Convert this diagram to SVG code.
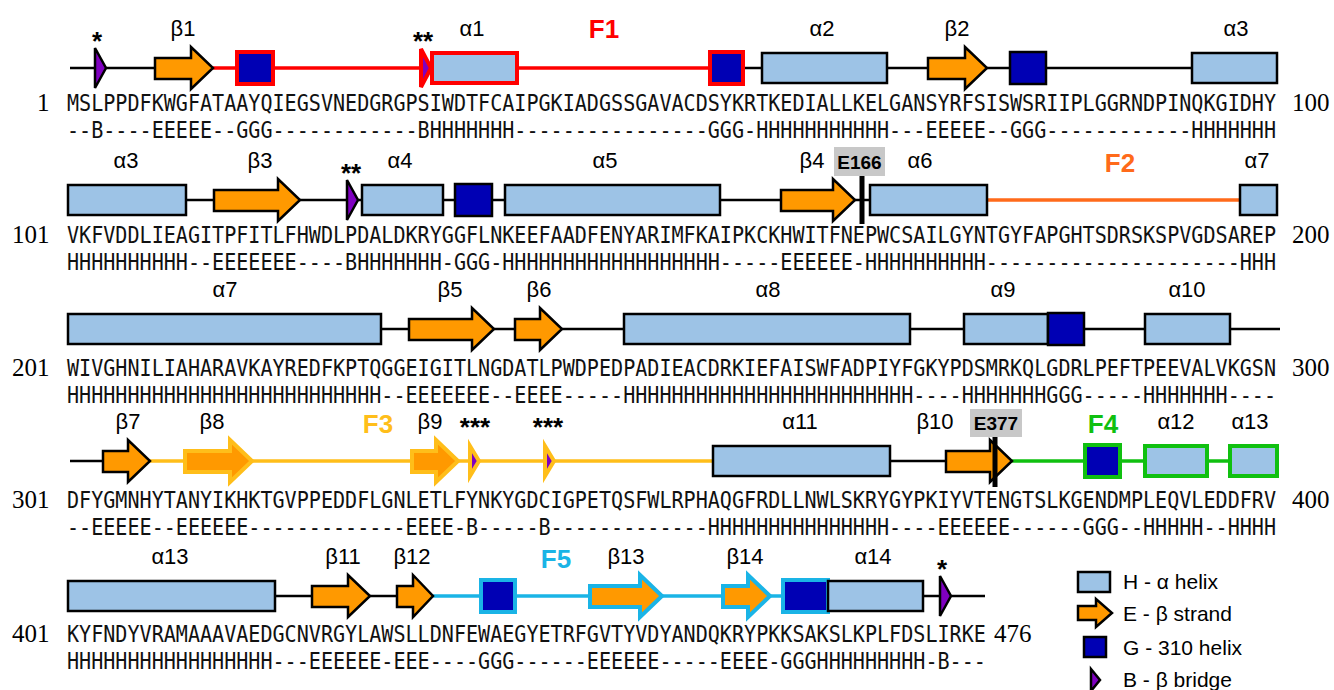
<svg xmlns="http://www.w3.org/2000/svg" width="1334" height="690" viewBox="0 0 1334 690">
<style>
.bg{fill:#ffffff}
.ln{stroke:#000;stroke-width:2.5;fill:none}
.lr{stroke:#ff0000;stroke-width:3.5;fill:none}
.lo{stroke:#ff6a1a;stroke-width:3.5;fill:none}
.ly{stroke:#ffbe1a;stroke-width:3.5;fill:none}
.lg{stroke:#10c010;stroke-width:3.5;fill:none}
.lc{stroke:#1ab4e6;stroke-width:3.5;fill:none}
.hx{fill:#9dc3e6;stroke:#000;stroke-width:2.5}
.st{fill:#ff9900;stroke:#000;stroke-width:2.5;stroke-linejoin:miter}
.g3{fill:#0000b4;stroke:#000;stroke-width:2.5}
.br{fill:#7f00c0;stroke:#000;stroke-width:2.5}
.cr{stroke:#ff0000;stroke-width:4}
.cy{stroke:#ffbe1a;stroke-width:4}
.cg{stroke:#10c010;stroke-width:4}
.cc{stroke:#1ab4e6;stroke-width:4}
.lab{font-family:"Liberation Sans",Arial,sans-serif;font-size:22px;fill:#000;text-anchor:middle}
.ast{font-family:"Liberation Sans",Arial,sans-serif;font-size:26px;font-weight:bold;fill:#000;text-anchor:middle}
.fl{font-family:"Liberation Sans",Arial,sans-serif;font-size:26px;font-weight:bold;text-anchor:middle}
.seq{font-family:"DejaVu Sans Mono","Liberation Mono",monospace;font-size:20.1px;fill:#111}
.num{font-family:"Liberation Serif","Times New Roman",serif;font-size:25px;fill:#000}
.mk{font-family:"Liberation Sans",Arial,sans-serif;font-size:19px;font-weight:bold;fill:#000;text-anchor:middle}
.mkb{fill:#c8c8c8}
.leg{font-family:"Liberation Sans",Arial,sans-serif;font-size:21px;fill:#000}
</style>
<rect class="bg" x="0" y="0" width="1334" height="690"/>

<!-- connectors -->
<g id="connectors">
  <!-- row 1 -->
  <line class="ln" x1="70" y1="68" x2="155" y2="68"/>
  <line class="lr" x1="213" y1="68" x2="710" y2="68"/>
  <line class="ln" x1="743" y1="68" x2="762" y2="68"/>
  <line class="ln" x1="887" y1="68" x2="928" y2="68"/>
  <line class="ln" x1="987" y1="68" x2="1010" y2="68"/>
  <line class="ln" x1="1046" y1="68" x2="1192" y2="68"/>
  <!-- row 2 -->
  <line class="ln" x1="186" y1="200" x2="214" y2="200"/>
  <line class="ln" x1="300" y1="200" x2="362" y2="200"/>
  <line class="ln" x1="443" y1="200" x2="455" y2="200"/>
  <line class="ln" x1="492" y1="200" x2="505" y2="200"/>
  <line class="ln" x1="720" y1="200" x2="781" y2="200"/>
  <line class="ln" x1="855" y1="200" x2="870" y2="200"/>
  <line class="lo" x1="987" y1="200" x2="1240" y2="200"/>
  <!-- row 3 -->
  <line class="ln" x1="381" y1="329" x2="409" y2="329"/>
  <line class="ln" x1="494" y1="329" x2="515" y2="329"/>
  <line class="ln" x1="562" y1="329" x2="624" y2="329"/>
  <line class="ln" x1="910" y1="329" x2="964" y2="329"/>
  <line class="ln" x1="1084" y1="329" x2="1145" y2="329"/>
  <line class="ln" x1="1230" y1="329" x2="1280" y2="329"/>
  <!-- row 4 -->
  <line class="ln" x1="70" y1="461" x2="103" y2="461"/>
  <line class="ly" x1="150" y1="461" x2="713" y2="461"/>
  <line class="ln" x1="890" y1="461" x2="946" y2="461"/>
  <line class="lg" x1="1012" y1="461" x2="1085" y2="461"/>
  <line class="lg" x1="1120" y1="461" x2="1145" y2="461"/>
  <line class="lg" x1="1207" y1="461" x2="1230" y2="461"/>
  <!-- row 5 -->
  <line class="ln" x1="275" y1="596" x2="312" y2="596"/>
  <line class="ln" x1="370" y1="596" x2="397" y2="596"/>
  <line class="lc" x1="433" y1="596" x2="783" y2="596"/>
  <line class="ln" x1="923" y1="596" x2="985" y2="596"/>
</g>

<!-- Row 1 -->
<g id="row1">
  <g id="b_r1a"><polygon class="br" points="95,48 106,68 95,88"/><text class="ast" x="97" y="50">*</text></g>
  <g id="beta1"><polygon class="st" points="155,58 191,58 191,47 213,68 191,89 191,79 155,79"/><text class="lab" x="183" y="36">β1</text></g>
  <g id="g_r1a"><rect class="g3 cr" x="237" y="52" width="36" height="32"/></g>
  <g id="b_r1b"><polygon class="br cr" points="421,49 431,68 421,87"/><text class="ast" x="423" y="50">**</text></g>
  <g id="alpha1"><rect class="hx cr" x="432" y="53" width="85" height="30"/><text class="lab" x="472" y="36">α1</text></g>
  <g id="F1"><text class="fl" x="604" y="38" fill="#ff0000">F1</text></g>
  <g id="g_r1b"><rect class="g3 cr" x="710" y="52" width="33" height="32"/></g>
  <g id="alpha2"><rect class="hx" x="762" y="53" width="125" height="30"/><text class="lab" x="822" y="36">α2</text></g>
  <g id="beta2"><polygon class="st" points="928,58 965,58 965,47 987,68 965,89 965,79 928,79"/><text class="lab" x="957" y="36">β2</text></g>
  <g id="g_r1c"><rect class="g3" x="1010" y="52" width="36" height="32"/></g>
  <g id="alpha3a"><rect class="hx" x="1192" y="53" width="85" height="30"/><text class="lab" x="1236" y="36">α3</text></g>
  <text class="num" x="37" y="111">1</text>
  <text class="seq" transform="translate(67,111) scale(1,1.1)">MSLPPDFKWGFATAAYQIEGSVNEDGRGPSIWDTFCAIPGKIADGSSGAVACDSYKRTKEDIALLKELGANSYRFSISWSRIIPLGGRNDPINQKGIDHY</text>
  <text class="seq" transform="translate(67,138) scale(1,1.1)">--B----EEEEE--GGG------------BHHHHHHH----------------GGG-HHHHHHHHHHH---EEEEE--GGG------------HHHHHHH</text>
  <text class="num" x="1292" y="111">100</text>
</g>

<!-- Row 2 -->
<g id="row2">
  <g id="alpha3b"><rect class="hx" x="68" y="185" width="118" height="30"/><text class="lab" x="126" y="168">α3</text></g>
  <g id="beta3"><polygon class="st" points="214,190 278,190 278,179 300,200 278,221 278,211 214,211"/><text class="lab" x="260" y="168">β3</text></g>
  <g id="b_r2a"><polygon class="br" points="347,180 358,200 347,220"/><text class="ast" x="351" y="182">**</text></g>
  <g id="alpha4"><rect class="hx" x="362" y="185" width="81" height="30"/><text class="lab" x="400" y="168">α4</text></g>
  <g id="g_r2a"><rect class="g3" x="455" y="184" width="37" height="32"/></g>
  <g id="alpha5"><rect class="hx" x="505" y="185" width="215" height="30"/><text class="lab" x="605" y="168">α5</text></g>
  <g id="beta4"><polygon class="st" points="781,190 833,190 833,179 855,200 833,221 833,211 781,211"/><text class="lab" x="812" y="168">β4</text></g>
  <g id="E166"><rect class="mkb" x="834" y="147" width="51" height="29"/><text class="mk" x="859.5" y="169">E166</text><line x1="862" y1="176" x2="862" y2="224" stroke="#000" stroke-width="5"/></g>
  <g id="alpha6"><rect class="hx" x="870" y="185" width="117" height="30"/><text class="lab" x="920" y="168">α6</text></g>
  <g id="F2"><text class="fl" x="1120" y="172" fill="#ff6a1a">F2</text></g>
  <g id="alpha7a"><rect class="hx" x="1240" y="185" width="37" height="30"/><text class="lab" x="1257" y="168">α7</text></g>
  <text class="num" x="12" y="243">101</text>
  <text class="seq" transform="translate(67,243) scale(1,1.1)">VKFVDDLIEAGITPFITLFHWDLPDALDKRYGGFLNKEEFAADFENYARIMFKAIPKCKHWITFNEPWCSAILGYNTGYFAPGHTSDRSKSPVGDSAREP</text>
  <text class="seq" transform="translate(67,270) scale(1,1.1)">HHHHHHHHHH--EEEEEEE----BHHHHHHH-GGG-HHHHHHHHHHHHHHHHHH-----EEEEEE-HHHHHHHHHH---------------------HHH</text>
  <text class="num" x="1292" y="243">200</text>
</g>

<!-- Row 3 -->
<g id="row3">
  <g id="alpha7b"><rect class="hx" x="68" y="314" width="313" height="30"/><text class="lab" x="225" y="297">α7</text></g>
  <g id="beta5"><polygon class="st" points="409,319 472,319 472,308 494,329 472,350 472,340 409,340"/><text class="lab" x="450" y="297">β5</text></g>
  <g id="beta6"><polygon class="st" points="515,319 540,319 540,308 562,329 540,350 540,340 515,340"/><text class="lab" x="539" y="297">β6</text></g>
  <g id="alpha8"><rect class="hx" x="624" y="314" width="286" height="30"/><text class="lab" x="768" y="297">α8</text></g>
  <g id="alpha9"><rect class="hx" x="964" y="314" width="84" height="30"/><text class="lab" x="1003" y="297">α9</text></g>
  <g id="g_r3a"><rect class="g3" x="1048" y="313" width="36" height="32"/></g>
  <g id="alpha10"><rect class="hx" x="1145" y="314" width="85" height="30"/><text class="lab" x="1187" y="297">α10</text></g>
  <text class="num" x="12" y="376">201</text>
  <text class="seq" transform="translate(67,376) scale(1,1.1)">WIVGHNILIAHARAVKAYREDFKPTQGGEIGITLNGDATLPWDPEDPADIEACDRKIEFAISWFADPIYFGKYPDSMRKQLGDRLPEFTPEEVALVKGSN</text>
  <text class="seq" transform="translate(67,403) scale(1,1.1)">HHHHHHHHHHHHHHHHHHHHHHHHHH--EEEEEEE--EEEE-----HHHHHHHHHHHHHHHHHHHHHHHH----HHHHHHHGGG-----HHHHHHH----</text>
  <text class="num" x="1292" y="376">300</text>
</g>

<!-- Row 4 -->
<g id="row4">
  <g id="beta7"><polygon class="st" points="103,451 128,451 128,440 150,461 128,482 128,472 103,472"/><text class="lab" x="128" y="429">β7</text></g>
  <g id="beta8"><polygon class="st cy" points="185,451 230,451 230,440 252,461 230,482 230,472 185,472"/><text class="lab" x="212" y="429">β8</text></g>
  <g id="F3"><text class="fl" x="378" y="433" fill="#ffbe1a">F3</text></g>
  <g id="beta9"><polygon class="st cy" points="412,451 436,451 436,440 458,461 436,482 436,472 412,472"/><text class="lab" x="430" y="429">β9</text></g>
  <g id="b_r4a"><polygon class="br cy" points="470,446 479,461 470,476"/><text class="ast" x="475" y="436">***</text></g>
  <g id="b_r4b"><polygon class="br cy" points="545,446 554,461 545,476"/><text class="ast" x="548" y="436">***</text></g>
  <g id="alpha11"><rect class="hx" x="713" y="446" width="177" height="30"/><text class="lab" x="800" y="429">α11</text></g>
  <g id="beta10"><polygon class="st" points="946,451 990,451 990,440 1012,461 990,482 990,472 946,472"/><text class="lab" x="935" y="429">β10</text></g>
  <g id="E377"><rect class="mkb" x="970" y="409" width="52" height="28"/><text class="mk" x="996" y="430">E377</text><line x1="995" y1="437" x2="995" y2="487" stroke="#000" stroke-width="5"/></g>
  <g id="F4"><text class="fl" x="1103" y="433" fill="#10c010">F4</text></g>
  <g id="g_r4a"><rect class="g3 cg" x="1085" y="445" width="35" height="32"/></g>
  <g id="alpha12"><rect class="hx cg" x="1145" y="446" width="62" height="30"/><text class="lab" x="1176" y="429">α12</text></g>
  <g id="alpha13a"><rect class="hx cg" x="1230" y="446" width="47" height="30"/><text class="lab" x="1250" y="429">α13</text></g>
  <text class="num" x="12" y="508">301</text>
  <text class="seq" transform="translate(67,508) scale(1,1.1)">DFYGMNHYTANYIKHKTGVPPEDDFLGNLETLFYNKYGDCIGPETQSFWLRPHAQGFRDLLNWLSKRYGYPKIYVTENGTSLKGENDMPLEQVLEDDFRV</text>
  <text class="seq" transform="translate(67,535) scale(1,1.1)">--EEEEE--EEEEEE-------------EEEE-B-----B-------------HHHHHHHHHHHHHHH----EEEEEE------GGG--HHHHH--HHHH</text>
  <text class="num" x="1292" y="508">400</text>
</g>

<!-- Row 5 -->
<g id="row5">
  <g id="alpha13b"><rect class="hx" x="68" y="581" width="207" height="30"/><text class="lab" x="170" y="564">α13</text></g>
  <g id="beta11"><polygon class="st" points="312,586 348,586 348,575 370,596 348,617 348,607 312,607"/><text class="lab" x="343" y="564">β11</text></g>
  <g id="beta12"><polygon class="st" points="397,586 413,586 413,575 433,596 413,617 413,607 397,607"/><text class="lab" x="412" y="564">β12</text></g>
  <g id="g_r5a"><rect class="g3 cc" x="481" y="580" width="34" height="32"/></g>
  <g id="F5"><text class="fl" x="556" y="568" fill="#1ab4e6">F5</text></g>
  <g id="beta13"><polygon class="st cc" points="590,586 640,586 640,575 662,596 640,617 640,607 590,607"/><text class="lab" x="626" y="564">β13</text></g>
  <g id="beta14"><polygon class="st cc" points="723,586 748,586 748,575 770,596 748,617 748,607 723,607"/><text class="lab" x="745" y="564">β14</text></g>
  <g id="g_r5b"><rect class="g3 cc" x="783" y="580" width="45" height="32"/></g>
  <g id="alpha14"><rect class="hx" x="828" y="581" width="95" height="30"/><text class="lab" x="873" y="564">α14</text></g>
  <g id="b_r5a"><polygon class="br" points="940,576 951,596 940,616"/><text class="ast" x="942" y="578">*</text></g>
  <text class="num" x="12" y="642">401</text>
  <text class="seq" transform="translate(67,642) scale(1,1.1)">KYFNDYVRAMAAAVAEDGCNVRGYLAWSLLDNFEWAEGYETRFGVTYVDYANDQKRYPKKSAKSLKPLFDSLIRKE</text>
  <text class="seq" transform="translate(67,669) scale(1,1.1)">HHHHHHHHHHHHHHHHH---EEEEEE-EEE----GGG------EEEEEE-----EEEE-GGGHHHHHHHHH-B---</text>
  <text class="num" x="994" y="642">476</text>
</g>

<!-- Legend -->
<g id="legend">
  <g id="leg_H"><rect class="hx" x="1078" y="572" width="32" height="20"/><text class="leg" x="1123" y="589">H - α helix</text></g>
  <g id="leg_E"><polygon class="st" points="1078,606 1096,606 1096,599 1112,613 1096,627 1096,620 1078,620"/><text class="leg" x="1123" y="621">E - β strand</text></g>
  <g id="leg_G"><rect class="g3" x="1084" y="637" width="22" height="20"/><text class="leg" x="1123" y="655">G - 310 helix</text></g>
  <g id="leg_B"><polygon class="br" points="1091,669 1100,680 1091,691"/><text class="leg" x="1123" y="687">B - β bridge</text></g>
</g>
</svg>
